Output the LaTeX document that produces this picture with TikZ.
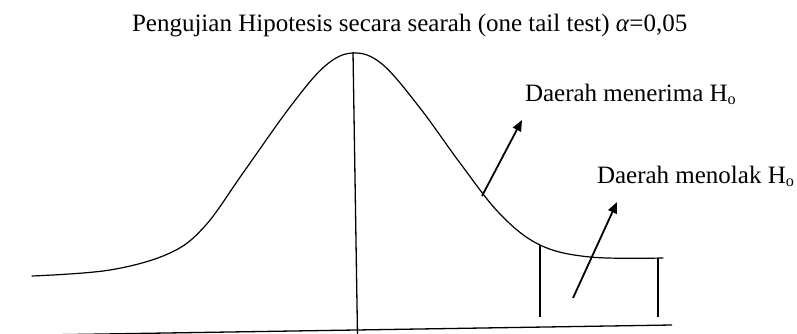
\documentclass[tikz,border=0pt]{standalone}
\usepackage{fontspec}
\setmainfont{Liberation Serif}
\usepackage{graphicx}
\usetikzlibrary{arrows.meta}
\tikzset{
  lbl/.style={anchor=base west, inner sep=0pt, outer sep=0pt, font=\fontsize{25}{30}\selectfont},
  curveline/.style={line width=1.2pt, line cap=round},
  thinline/.style={line width=1.3pt},
  pointer/.style={line width=1.8pt, -{Triangle[length=11pt,width=9pt]}},
}
\newcommand{\Hsub}{H\raisebox{-0.12em}{\scalebox{0.65}{o}}}
\begin{document}
\begin{tikzpicture}[x=1pt,y=-1pt]
\useasboundingbox (0,0) rectangle (797,334);
\clip (0,0) rectangle (797,334);
% title and labels
\node[lbl] (title) at (132,32) {Pengujian Hipotesis secara searah (one tail test) \textit{α}=0,05};
\node[lbl] (acc) at (525,102) {Daerah menerima \Hsub};
\node[lbl] (rej) at (597,183) {Daerah menolak \Hsub};
% curve
\draw[curveline] plot[smooth, tension=0.6] coordinates {
 (32,276) (110,270) (170,253) (205,226) (243,173) (290,107) (325,66)
 (353,53) (382,64) (420,108) (460,163) (500,214) (540,245) (590,257)
 (663,258)};
% axis
\coordinate (axL) at (40,335);
\coordinate (axR) at (672,325);
\draw[thinline] (axL) -- (axR);
% centre line
\coordinate (peak) at (353,52);
\coordinate (cbot) at (357.5,336);
\draw[thinline] (peak) -- (cbot);
% critical region verticals
\coordinate (v1t) at (540,245);
\coordinate (v1b) at (540,317);
\coordinate (v2t) at (658,258);
\coordinate (v2b) at (658,317);
\draw[thinline] (v1t) -- (v1b);
\draw[thinline] (v2t) -- (v2b);
% arrows
\coordinate (a1s) at (482,196);
\coordinate (a1e) at (522,120);
\coordinate (a2s) at (573,298);
\coordinate (a2e) at (617,202);
\draw[pointer] (a1s) -- (a1e);
\draw[pointer] (a2s) -- (a2e);
\end{tikzpicture}
\end{document}
